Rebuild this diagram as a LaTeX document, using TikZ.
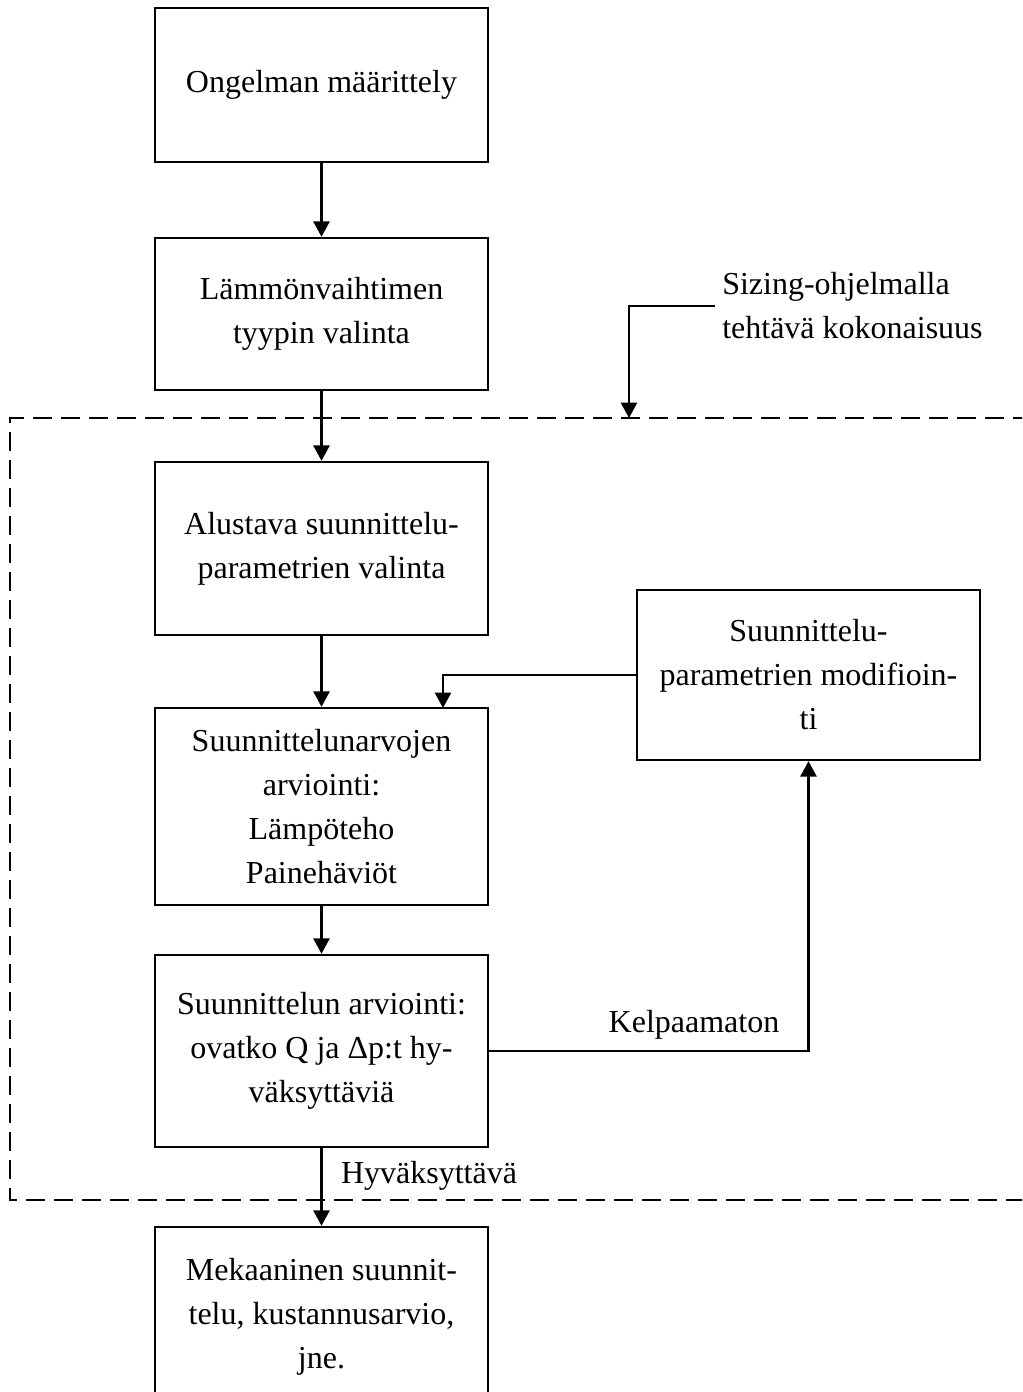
\documentclass[tikz,border=0pt]{standalone}
\usepackage{fontspec}
\setmainfont{Liberation Serif}
\usetikzlibrary{arrows.meta}
\begin{document}
\begin{tikzpicture}[x=0.75pt,y=-0.75pt,
  txt/.style={font=\fontsize{24}{33}\selectfont, align=center, inner sep=0pt},
  box/.style={txt, draw, line width=1.8pt},
  arr/.style={line width=1.8pt, -{Triangle[length=11.5pt,width=12pt]}},
  zone/.style={line width=1.8pt, dash pattern=on 14pt off 7pt}]
\useasboundingbox (0,0) rectangle (1022,1392);
\fill[white] (0,0) rectangle (1022,1392);
\clip (0,0) rectangle (1022,1392);

% main column
\node[box, minimum width=249.75pt, minimum height=115.5pt] (b1) at (321.5,85) {Ongelman määrittely};
\node[box, minimum width=249.75pt, minimum height=114pt] (b2) at (321.5,314) {Lämmönvaihtimen\\tyypin valinta};
\node[box, minimum width=249.75pt, minimum height=129.75pt] (b3) at (321.5,548.5) {Alustava suunnittelu-\\parametrien valinta};
\node[box, minimum width=249.75pt, minimum height=147.75pt] (b4) at (321.5,806.5) {Suunnittelunarvojen\\arviointi:\\Lämpöteho\\Painehäviöt};
\node[box, minimum width=249.75pt, minimum height=144pt] (b5) at (321.5,1051) {Suunnittelun arviointi:\\ovatko Q ja Δp:t hy-\\väksyttäviä};
\node[box, minimum width=249.75pt, minimum height=135pt] (b6) at (321.5,1317) {Mekaaninen suunnit-\\telu, kustannusarvio,\\jne.};

% feedback box
\node[box, minimum width=257.25pt, minimum height=127.5pt] (b7) at (808.5,675) {Suunnittelu-\\parametrien modifioin-\\ti};

% region handled by the sizing program
\draw[zone] (1060,418) -- (10,418) -- (10,1200) -- (1060,1200);

\node[txt, anchor=west, align=left] (sz) at (722,306) {Sizing-ohjelmalla\\tehtävä kokonaisuus};
\coordinate (ztop) at (629,418);
\draw[arr] ([xshift=-5.25pt]sz.west) -| (ztop);

% connectors
\draw[arr] (b1) -- (b2);
\draw[arr] (b2) -- (b3);
\draw[arr] (b3) -- (b4);
\draw[arr] (b4) -- (b5);
\draw[arr] (b5) -- (b6);
\coordinate (fb) at (443,708);
\draw[arr] (b7.west) -| (fb);
\draw[arr] (b5.east) -| (b7.south);

% labels
\node[txt] (ok) at (429,1176) {Hyväksyttävä};
\node[txt] (nok) at (694,1025) {Kelpaamaton};
\end{tikzpicture}
\end{document}
